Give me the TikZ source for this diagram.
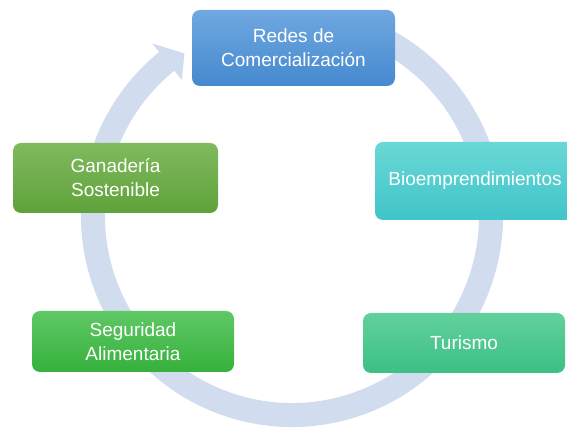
\documentclass[tikz,border=0pt]{standalone}
\usepackage{fontspec}
\setmainfont{Liberation Sans}
\usetikzlibrary{calc}
\definecolor{ringc}{HTML}{D1DCEE}
\begin{document}
\begin{tikzpicture}[x=1pt,y=1pt,
  box/.style={rounded corners=8pt, inner sep=0pt, text=white, align=center,
    font=\fontsize{19}{24}\selectfont},
]
\useasboundingbox (0,0) rectangle (567,430);
\coordinate (C) at (292,214);
% ring
\draw[ringc, line width=24pt] ($(C)+(70:199)$) arc[start angle=70, end angle=-231.5, radius=199];
\fill[ringc] ($(C)+(129:175)$) -- ($(C)+(129:222)$) -- ($(C)+(123.5:195)$) -- cycle;
% boxes
\node[box, minimum width=203pt, minimum height=76pt, top color={rgb,255:red,112;green,168;blue,224}, bottom color={rgb,255:red,69;green,137;blue,207}] (redes) at (293.5,382) {Redes de\\Comercialización};
\node[box, minimum width=200pt, minimum height=78pt, top color={rgb,255:red,106;green,215;blue,214}, bottom color={rgb,255:red,64;green,197;blue,201}] (bio) at (475,249) {Bioemprendimientos};
\node[box, minimum width=205pt, minimum height=70pt, top color={rgb,255:red,128;green,186;blue,94}, bottom color={rgb,255:red,95;green,162;blue,58}] (gan) at (115.5,252) {Ganadería\\Sostenible};
\node[box, minimum width=202pt, minimum height=61pt, top color={rgb,255:red,96;green,200;blue,101}, bottom color={rgb,255:red,53;green,177;blue,60}] (seg) at (133,88.5) {Seguridad\\Alimentaria};
\node[box, minimum width=202pt, minimum height=60pt, top color={rgb,255:red,98;green,208;blue,156}, bottom color={rgb,255:red,60;green,191;blue,134}] (tur) at (464,87) {Turismo};
\end{tikzpicture}
\end{document}
